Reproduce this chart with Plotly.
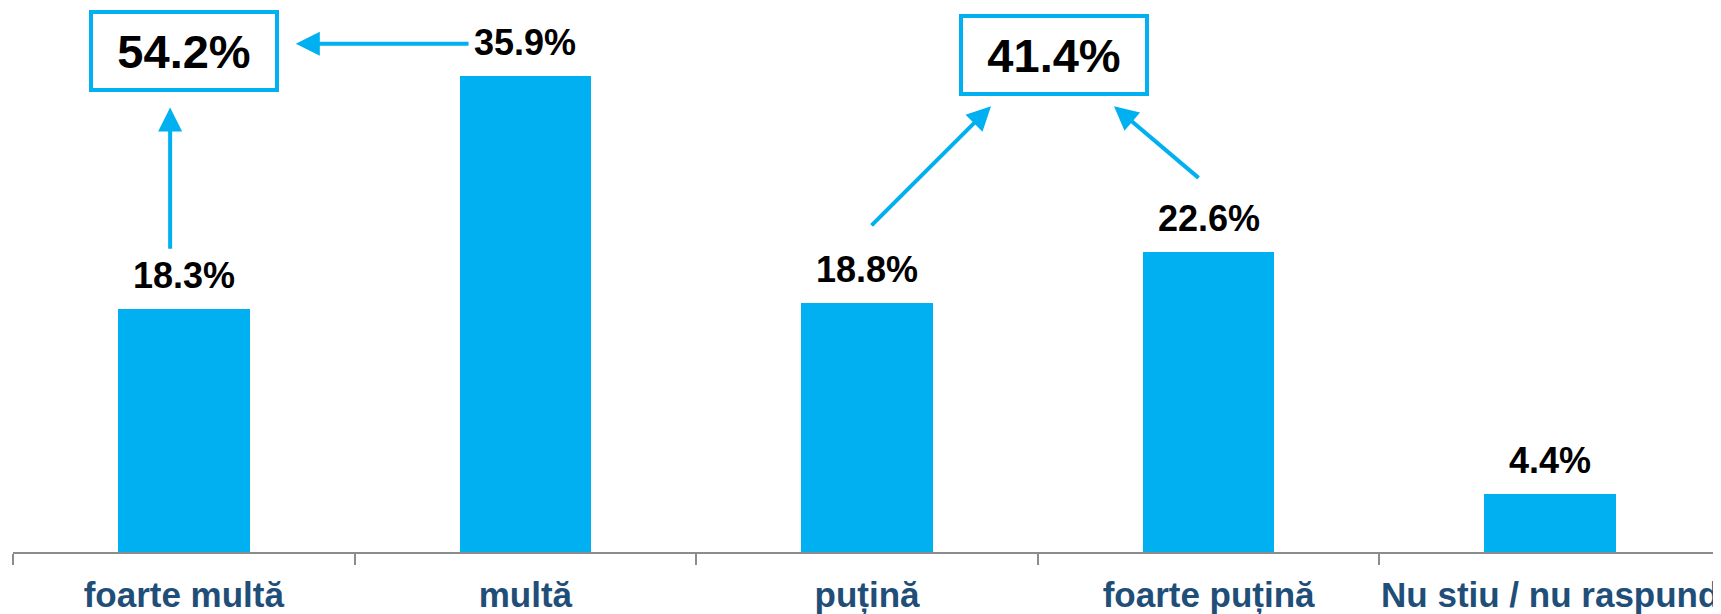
import plotly.graph_objects as go

categories = ["foarte multă", "multă", "puțină", "foarte puțină", "Nu stiu / nu raspund"]
values = [18.3, 35.9, 18.8, 22.6, 4.4]
labels = ["18.3%", "35.9%", "18.8%", "22.6%", "4.4%"]

BLUE = "#00B0F0"
DARK = "#1F4E79"
FONT = "Liberation Sans, Arial, sans-serif"

fig = go.Figure()
fig.add_trace(go.Bar(
    x=categories, y=values, width=0.385,
    marker=dict(color=BLUE, line=dict(width=0)),
    hoverinfo="skip",
))

pos_sum = values[0] + values[1]
neg_sum = values[2] + values[3]

annotations = []
for i, (v, t) in enumerate(zip(values, labels)):
    annotations.append(dict(x=i, y=v, xref="x", yref="y", text=f"<b>{t}</b>",
                            showarrow=False, yanchor="bottom", yshift=11,
                            font=dict(family=FONT, size=36, color="black")))
# boxes
annotations.append(dict(x=0, y=37.75, xref="x", yref="y", text=f"<b>{pos_sum:.1f}%</b>",
                        showarrow=False, font=dict(family=FONT, size=47, color="black"),
                        bordercolor=BLUE, borderwidth=4, borderpad=0, width=182, height=74,
                        bgcolor="white"))
annotations.append(dict(x=2.547, y=37.45, xref="x", yref="y", text=f"<b>{neg_sum:.1f}%</b>",
                        showarrow=False, font=dict(family=FONT, size=47, color="black"),
                        bordercolor=BLUE, borderwidth=4, borderpad=0, width=182, height=74,
                        bgcolor="white"))

def arrow(x0, y0, x1, y1):
    return dict(x=x1, y=y1, ax=x0, ay=y0, xref="x", yref="y", axref="x", ayref="y",
                text="", showarrow=True, arrowhead=2, arrowsize=1.2, arrowwidth=4,
                arrowcolor=BLUE, standoff=0, startstandoff=0)

annotations.append(arrow(-0.04, values[0] + 4.45, -0.04, 33.5))
annotations.append(arrow(0.838, values[1] + 2.4, 0.328, values[1] + 2.4))
annotations.append(arrow(2.009, values[2] + 5.7, 2.363, 33.6))
annotations.append(arrow(2.975, values[3] + 5.5, 2.723, 33.6))

fig.update_layout(
    width=1721, height=614,
    margin=dict(l=5, r=8, t=0, b=70, autoexpand=False),
    plot_bgcolor="white", paper_bgcolor="white",
    showlegend=False,
    annotations=annotations,
    bargap=0,
)
fig.update_xaxes(
    type="category", categoryorder="array", categoryarray=categories,
    ticktext=[f"<b>{c}</b>" for c in categories], tickvals=categories,
    range=[-0.5, 4.5], tickson="boundaries", ticks="outside", ticklen=11,
    tickcolor="#8C8C8C", tickwidth=1.5, automargin=False, ticklabelstandoff=11,
    tickangle=0,
    showline=True, linecolor="#8C8C8C", linewidth=2,
    tickfont=dict(family=FONT, size=35, color=DARK),
    showgrid=False, zeroline=False,
)
fig.update_yaxes(range=[0, 41.0], visible=False, showgrid=False, zeroline=False, automargin=False)

fig.write_html("out.html")
